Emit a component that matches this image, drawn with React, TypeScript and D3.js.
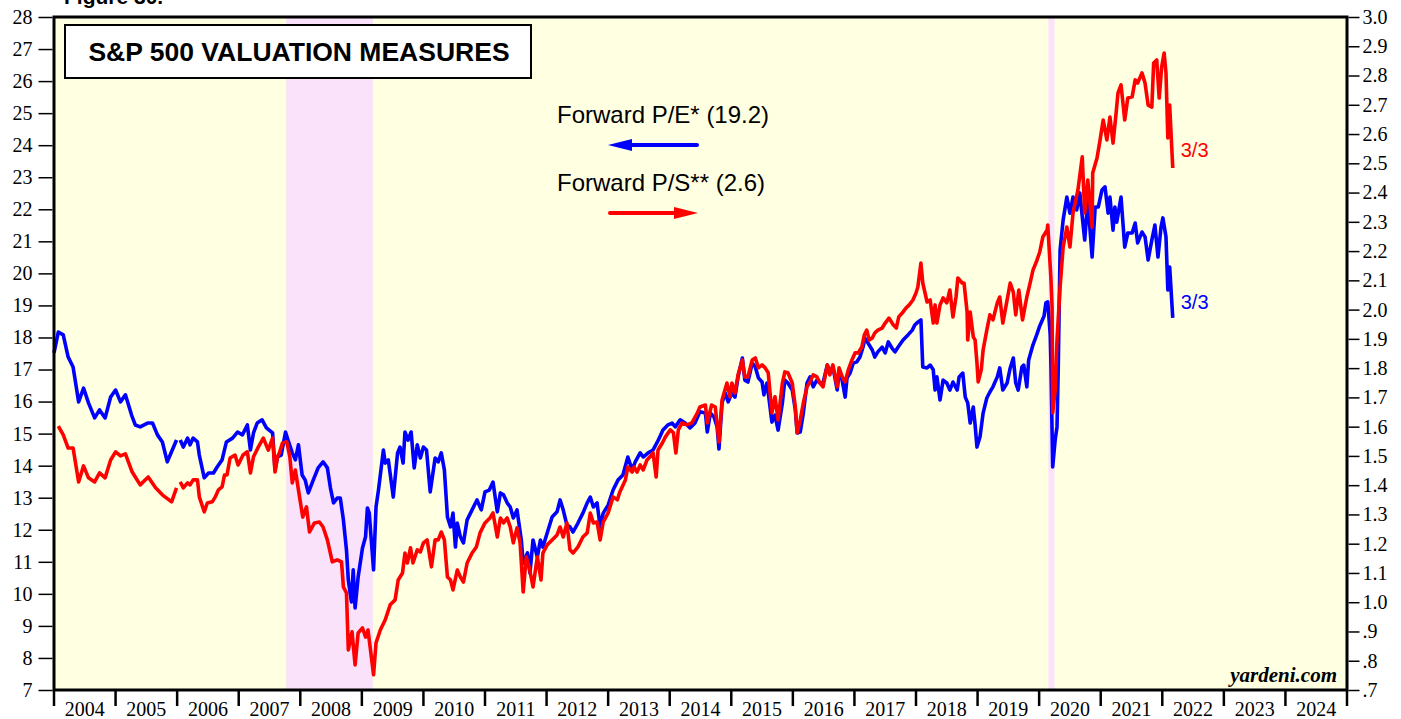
import React, { useEffect, useRef } from 'react'
import * as d3 from 'd3'

// year boundaries on the x axis, and the labels placed between them
const yearTicks = d3.range(2004, 2026)
const yearLabels = d3.range(2004, 2025)
const peTicks = d3.range(7, 29)
const psTicks = [0.7, 0.8, 0.9, 1.0, 1.1, 1.2, 1.3, 1.4, 1.5, 1.6, 1.7, 1.8, 1.9, 2.0, 2.1, 2.2, 2.3, 2.4, 2.5, 2.6, 2.7, 2.8, 2.9, 3.0]

// shaded periods (decimal years)
const bearMarkets: [number, number][] = [[2007.77, 2009.18], [2020.15, 2020.25]]

const peLatest = '19.2'
const psLatest = '2.6'
const lastDate = '3/3'

// Forward P/E, [decimal year, value]; null = break in the series
const peData: [number, number | null][] = [
  [2004.00, 17.52], [2004.07, 18.17], [2004.15, 18.08], [2004.23, 17.39], [2004.31, 17.08], [2004.40, 15.99],
  [2004.48, 16.42], [2004.56, 15.96], [2004.66, 15.49], [2004.74, 15.74], [2004.83, 15.49], [2004.92, 16.14],
  [2005.00, 16.36], [2005.08, 15.99], [2005.16, 16.21], [2005.26, 15.58], [2005.32, 15.27], [2005.40, 15.21],
  [2005.52, 15.33], [2005.60, 15.33], [2005.68, 14.96], [2005.76, 14.74], [2005.84, 14.12], [2005.99, 14.80],
  [2006.02, null],
  [2006.05, 14.80], [2006.10, 14.58], [2006.17, 14.86], [2006.21, 14.65], [2006.26, 14.86], [2006.33, 14.74],
  [2006.36, 14.33], [2006.44, 13.62], [2006.51, 13.77], [2006.59, 13.77], [2006.65, 13.96], [2006.73, 14.18],
  [2006.80, 14.74], [2006.90, 14.86], [2006.98, 15.05], [2007.06, 14.96], [2007.14, 15.27], [2007.19, 14.49],
  [2007.24, 15.02], [2007.30, 15.33], [2007.38, 15.43], [2007.45, 15.18], [2007.55, 15.02], [2007.59, 13.87],
  [2007.63, 14.27], [2007.69, 14.33], [2007.76, 15.05], [2007.81, 14.74], [2007.87, 14.40], [2007.92, 14.18],
  [2007.97, 14.65], [2008.03, 13.71], [2008.08, 13.55], [2008.13, 13.15], [2008.21, 13.55], [2008.29, 13.93],
  [2008.37, 14.12], [2008.44, 13.93], [2008.49, 13.30], [2008.54, 12.84], [2008.60, 12.99], [2008.65, 12.99],
  [2008.70, 12.31], [2008.75, 11.37], [2008.78, 10.43], [2008.83, 9.75], [2008.86, 10.75], [2008.89, 9.56],
  [2008.94, 10.53], [2009.01, 11.43], [2009.06, 11.78], [2009.09, 12.68], [2009.12, 12.52], [2009.19, 10.75],
  [2009.23, 12.71], [2009.27, 13.24], [2009.35, 14.49], [2009.38, 14.08], [2009.43, 14.18], [2009.51, 13.02],
  [2009.58, 14.40], [2009.62, 14.58], [2009.67, 14.08], [2009.70, 15.05], [2009.75, 14.80], [2009.80, 15.05],
  [2009.85, 13.93], [2009.90, 14.65], [2009.95, 14.24], [2010.00, 14.58], [2010.05, 14.49], [2010.11, 13.18],
  [2010.19, 14.24], [2010.24, 14.12], [2010.29, 14.40], [2010.34, 13.87], [2010.39, 12.40], [2010.44, 12.09],
  [2010.48, 12.52], [2010.52, 11.46], [2010.55, 12.21], [2010.60, 11.78], [2010.65, 11.59], [2010.71, 12.31],
  [2010.79, 12.62], [2010.87, 12.93], [2010.94, 12.62], [2011.00, 13.18], [2011.07, 13.24], [2011.13, 13.49],
  [2011.20, 12.56], [2011.25, 13.15], [2011.30, 13.09], [2011.36, 12.84], [2011.41, 12.71], [2011.46, 12.37],
  [2011.52, 12.62], [2011.59, 11.68], [2011.62, 10.96], [2011.69, 11.28], [2011.73, 10.65], [2011.78, 11.68],
  [2011.85, 11.15], [2011.90, 11.68], [2011.94, 11.46], [2012.01, 11.90], [2012.09, 12.40], [2012.17, 12.56],
  [2012.22, 12.93], [2012.27, 12.62], [2012.33, 12.15], [2012.38, 12.09], [2012.43, 11.93], [2012.51, 12.21],
  [2012.59, 12.52], [2012.66, 12.84], [2012.71, 13.02], [2012.76, 12.71], [2012.82, 12.84], [2012.87, 12.09],
  [2012.92, 12.52], [2013.00, 12.77], [2013.08, 13.24], [2013.16, 13.55], [2013.24, 13.71], [2013.32, 14.27],
  [2013.39, 13.87], [2013.44, 14.12], [2013.52, 14.40], [2013.57, 14.27], [2013.65, 14.40], [2013.73, 14.49],
  [2013.80, 14.74], [2013.84, 14.90], [2013.89, 15.11], [2013.97, 15.27], [2014.04, 15.33], [2014.09, 15.21],
  [2014.17, 15.43], [2014.25, 15.33], [2014.33, 15.18], [2014.41, 15.33], [2014.49, 15.68], [2014.58, 15.64],
  [2014.61, 15.05], [2014.66, 15.64], [2014.72, 15.52], [2014.77, 15.21], [2014.80, 14.52], [2014.85, 15.96],
  [2014.90, 16.27], [2014.95, 15.99], [2015.01, 16.27], [2015.06, 16.14], [2015.11, 16.77], [2015.18, 17.36],
  [2015.22, 16.67], [2015.27, 16.61], [2015.34, 17.20], [2015.39, 17.08], [2015.44, 16.74], [2015.50, 16.61],
  [2015.53, 16.21], [2015.58, 16.58], [2015.66, 15.36], [2015.71, 15.58], [2015.76, 15.11], [2015.83, 15.96],
  [2015.87, 16.67], [2015.92, 16.58], [2015.99, 16.36], [2016.04, 15.74], [2016.07, 15.02], [2016.12, 15.05],
  [2016.17, 15.64], [2016.23, 16.58], [2016.28, 16.77], [2016.33, 16.46], [2016.39, 16.67], [2016.44, 16.58],
  [2016.49, 16.58], [2016.56, 17.14], [2016.60, 16.92], [2016.65, 17.08], [2016.72, 16.36], [2016.75, 16.89],
  [2016.80, 16.67], [2016.85, 16.14], [2016.88, 16.74], [2016.93, 16.89], [2016.98, 17.20], [2017.04, 17.24],
  [2017.09, 17.39], [2017.14, 17.70], [2017.17, 17.98], [2017.22, 17.83], [2017.29, 17.61], [2017.33, 17.39],
  [2017.38, 17.55], [2017.45, 17.70], [2017.50, 17.52], [2017.55, 17.86], [2017.61, 17.67], [2017.66, 17.55],
  [2017.71, 17.70], [2017.79, 17.92], [2017.87, 18.08], [2017.94, 18.23], [2017.98, 18.39], [2018.03, 18.48],
  [2018.08, 18.55], [2018.11, 17.08], [2018.18, 17.05], [2018.23, 17.14], [2018.28, 16.99], [2018.31, 16.36],
  [2018.34, 16.77], [2018.39, 16.05], [2018.44, 16.67], [2018.50, 16.58], [2018.55, 16.36], [2018.60, 16.61],
  [2018.67, 16.36], [2018.70, 16.77], [2018.76, 16.89], [2018.80, 16.14], [2018.84, 15.96], [2018.88, 15.33],
  [2018.93, 15.83], [2018.96, 15.27], [2018.99, 14.58], [2019.04, 14.90], [2019.09, 15.64], [2019.15, 16.11],
  [2019.20, 16.30], [2019.25, 16.46], [2019.32, 16.77], [2019.36, 17.05], [2019.41, 16.36], [2019.48, 16.58],
  [2019.53, 17.05], [2019.58, 17.36], [2019.62, 16.58], [2019.66, 16.36], [2019.72, 17.08], [2019.75, 17.14],
  [2019.80, 16.46], [2019.83, 17.30], [2019.90, 17.77], [2019.96, 18.08], [2020.01, 18.36], [2020.08, 18.67],
  [2020.11, 19.08], [2020.14, 19.11], [2020.18, 18.08], [2020.19, 17.30], [2020.22, 13.96], [2020.26, 14.80],
  [2020.29, 15.21], [2020.31, 16.99], [2020.34, 20.73], [2020.39, 21.67], [2020.45, 22.38], [2020.50, 21.88],
  [2020.55, 22.38], [2020.61, 21.98], [2020.66, 22.51], [2020.74, 21.04], [2020.79, 22.29], [2020.86, 20.51],
  [2020.91, 22.07], [2020.96, 22.07], [2021.02, 22.60], [2021.07, 22.70], [2021.12, 21.88], [2021.15, 22.38],
  [2021.20, 21.35], [2021.23, 22.07], [2021.26, 21.60], [2021.33, 22.38], [2021.39, 20.82], [2021.44, 21.26],
  [2021.51, 21.26], [2021.56, 21.57], [2021.60, 20.95], [2021.67, 21.29], [2021.72, 21.14], [2021.77, 20.42],
  [2021.83, 21.04], [2021.88, 21.51], [2021.93, 20.51], [2021.98, 21.45], [2022.01, 21.73], [2022.06, 21.14],
  [2022.09, 19.48], [2022.12, 20.20], [2022.17, 18.61],
]

// Forward P/S, [decimal year, value] on the right axis
const psData: [number, number | null][] = [
  [2004.07, 1.602], [2004.15, 1.572], [2004.23, 1.527], [2004.31, 1.527], [2004.40, 1.411], [2004.48, 1.466],
  [2004.56, 1.425], [2004.66, 1.411], [2004.74, 1.442], [2004.83, 1.425], [2004.92, 1.486], [2005.00, 1.514],
  [2005.08, 1.500], [2005.16, 1.507], [2005.27, 1.445], [2005.40, 1.401], [2005.53, 1.428], [2005.65, 1.391],
  [2005.76, 1.367], [2005.91, 1.343], [2005.99, 1.391],
  [2006.02, null],
  [2006.05, 1.411], [2006.10, 1.391], [2006.17, 1.408], [2006.21, 1.401], [2006.26, 1.418], [2006.33, 1.418],
  [2006.36, 1.360], [2006.44, 1.309], [2006.49, 1.339], [2006.57, 1.343], [2006.62, 1.360], [2006.67, 1.384],
  [2006.73, 1.394], [2006.77, 1.435], [2006.81, 1.435], [2006.86, 1.493], [2006.94, 1.503], [2006.99, 1.469],
  [2007.07, 1.503], [2007.14, 1.514], [2007.19, 1.442], [2007.24, 1.497], [2007.32, 1.531], [2007.40, 1.561],
  [2007.48, 1.520], [2007.55, 1.561], [2007.59, 1.445], [2007.63, 1.497], [2007.66, 1.510], [2007.71, 1.544],
  [2007.78, 1.548], [2007.83, 1.497], [2007.87, 1.408], [2007.92, 1.452], [2007.97, 1.384], [2008.04, 1.291],
  [2008.10, 1.326], [2008.15, 1.240], [2008.23, 1.271], [2008.31, 1.274], [2008.37, 1.257], [2008.44, 1.213],
  [2008.52, 1.138], [2008.60, 1.145], [2008.67, 1.138], [2008.70, 1.052], [2008.75, 1.032], [2008.78, 0.837],
  [2008.84, 0.899], [2008.89, 0.786], [2008.94, 0.895], [2009.01, 0.912], [2009.06, 0.881], [2009.10, 0.905],
  [2009.19, 0.752], [2009.23, 0.861], [2009.30, 0.905], [2009.38, 0.940], [2009.46, 0.991], [2009.54, 1.008],
  [2009.59, 1.076], [2009.66, 1.100], [2009.70, 1.168], [2009.74, 1.134], [2009.79, 1.186], [2009.83, 1.134],
  [2009.90, 1.179], [2009.95, 1.172], [2010.00, 1.203], [2010.06, 1.213], [2010.13, 1.121], [2010.19, 1.213],
  [2010.24, 1.213], [2010.29, 1.240], [2010.34, 1.213], [2010.39, 1.086], [2010.44, 1.076], [2010.48, 1.042],
  [2010.55, 1.110], [2010.60, 1.086], [2010.65, 1.069], [2010.71, 1.134], [2010.79, 1.168], [2010.86, 1.189],
  [2010.92, 1.237], [2011.00, 1.271], [2011.08, 1.288], [2011.13, 1.305], [2011.20, 1.223], [2011.25, 1.288],
  [2011.30, 1.271], [2011.36, 1.288], [2011.41, 1.257], [2011.46, 1.203], [2011.52, 1.254], [2011.57, 1.203],
  [2011.62, 1.035], [2011.67, 1.155], [2011.72, 1.117], [2011.78, 1.052], [2011.85, 1.155], [2011.91, 1.076],
  [2011.94, 1.168], [2012.01, 1.196], [2012.09, 1.213], [2012.17, 1.230], [2012.22, 1.257], [2012.27, 1.223],
  [2012.33, 1.271], [2012.38, 1.179], [2012.43, 1.168], [2012.51, 1.189], [2012.59, 1.223], [2012.66, 1.237],
  [2012.71, 1.305], [2012.76, 1.271], [2012.82, 1.274], [2012.87, 1.213], [2012.92, 1.274], [2013.00, 1.305],
  [2013.08, 1.360], [2013.15, 1.350], [2013.19, 1.377], [2013.28, 1.418], [2013.32, 1.462], [2013.39, 1.445],
  [2013.42, 1.462], [2013.47, 1.445], [2013.52, 1.469], [2013.57, 1.452], [2013.63, 1.486], [2013.68, 1.497],
  [2013.73, 1.510], [2013.78, 1.428], [2013.81, 1.520], [2013.88, 1.544], [2013.93, 1.565], [2014.01, 1.589],
  [2014.06, 1.579], [2014.10, 1.510], [2014.14, 1.589], [2014.20, 1.613], [2014.28, 1.606], [2014.36, 1.613],
  [2014.45, 1.647], [2014.49, 1.667], [2014.58, 1.674], [2014.61, 1.613], [2014.68, 1.674], [2014.74, 1.667],
  [2014.80, 1.548], [2014.85, 1.691], [2014.93, 1.749], [2014.98, 1.702], [2015.01, 1.749], [2015.06, 1.715],
  [2015.11, 1.777], [2015.18, 1.828], [2015.22, 1.770], [2015.27, 1.770], [2015.34, 1.828], [2015.39, 1.835],
  [2015.44, 1.801], [2015.50, 1.811], [2015.55, 1.801], [2015.60, 1.784], [2015.66, 1.647], [2015.71, 1.702],
  [2015.76, 1.623], [2015.83, 1.749], [2015.87, 1.787], [2015.92, 1.784], [2015.99, 1.749], [2016.04, 1.667],
  [2016.07, 1.579], [2016.12, 1.623], [2016.17, 1.681], [2016.23, 1.736], [2016.28, 1.753], [2016.33, 1.777],
  [2016.39, 1.770], [2016.44, 1.749], [2016.49, 1.736], [2016.56, 1.811], [2016.60, 1.777], [2016.65, 1.811],
  [2016.72, 1.736], [2016.75, 1.801], [2016.81, 1.766], [2016.85, 1.753], [2016.90, 1.794], [2016.96, 1.828],
  [2017.01, 1.852], [2017.06, 1.852], [2017.12, 1.872], [2017.16, 1.913], [2017.20, 1.930], [2017.24, 1.896],
  [2017.29, 1.903], [2017.33, 1.920], [2017.38, 1.930], [2017.45, 1.937], [2017.50, 1.954], [2017.56, 1.971],
  [2017.63, 1.948], [2017.68, 1.937], [2017.72, 1.975], [2017.79, 1.992], [2017.84, 2.006], [2017.89, 2.016],
  [2017.95, 2.033], [2018.00, 2.057], [2018.03, 2.077], [2018.08, 2.159], [2018.11, 2.091], [2018.18, 2.026],
  [2018.23, 2.033], [2018.28, 1.954], [2018.31, 2.016], [2018.34, 1.954], [2018.39, 2.016], [2018.44, 2.040],
  [2018.50, 2.023], [2018.55, 2.067], [2018.60, 1.975], [2018.65, 2.043], [2018.68, 2.108], [2018.75, 2.091],
  [2018.78, 2.091], [2018.83, 1.992], [2018.84, 1.896], [2018.88, 1.992], [2018.93, 1.907], [2018.96, 1.896],
  [2018.99, 1.818], [2019.01, 1.753], [2019.06, 1.794], [2019.09, 1.862], [2019.15, 1.930], [2019.20, 1.982],
  [2019.25, 1.965], [2019.32, 2.023], [2019.36, 2.043], [2019.41, 1.954], [2019.48, 2.033], [2019.53, 2.091],
  [2019.58, 2.060], [2019.62, 1.982], [2019.67, 2.067], [2019.73, 1.965], [2019.80, 2.043], [2019.85, 2.088],
  [2019.90, 2.135], [2019.96, 2.166], [2020.01, 2.197], [2020.06, 2.248], [2020.13, 2.272], [2020.14, 2.289],
  [2020.19, 2.112], [2020.21, 2.009], [2020.22, 1.647], [2020.26, 1.725], [2020.29, 1.896], [2020.34, 2.077],
  [2020.39, 2.214], [2020.45, 2.282], [2020.50, 2.214], [2020.55, 2.330], [2020.63, 2.409], [2020.70, 2.522],
  [2020.74, 2.330], [2020.79, 2.443], [2020.86, 2.282], [2020.87, 2.467], [2020.94, 2.518], [2020.99, 2.580],
  [2021.04, 2.648], [2021.10, 2.580], [2021.15, 2.658], [2021.20, 2.569], [2021.25, 2.672], [2021.28, 2.740],
  [2021.33, 2.768], [2021.39, 2.648], [2021.44, 2.723], [2021.51, 2.727], [2021.56, 2.785], [2021.60, 2.774],
  [2021.67, 2.809], [2021.72, 2.774], [2021.77, 2.699], [2021.83, 2.692], [2021.86, 2.843], [2021.91, 2.853],
  [2021.95, 2.723], [2021.99, 2.829], [2022.03, 2.877], [2022.06, 2.809], [2022.09, 2.587], [2022.12, 2.699],
  [2022.17, 2.484],
]

const SERIF = '"Liberation Serif", "Times New Roman", serif'
const SANS = '"Liberation Sans", Arial, sans-serif'

export default function App() {
  const ref = useRef<SVGSVGElement>(null)

  useEffect(() => {
    const W = 1401, H = 719
    const m = { left: 54, right: 1347, top: 17, bottom: 690 }

    const svg = d3.select(ref.current)
    svg.selectAll('*').remove()
    svg.attr('width', W).attr('height', H)

    const x = d3.scaleLinear().domain([2004, 2025]).range([m.left, m.right])
    const yL = d3.scaleLinear().domain([7, 28]).range([m.bottom, m.top])
    const yR = d3.scaleLinear().domain([0.7, 3.0]).range([m.bottom, m.top])

    svg.append('rect').attr('width', W).attr('height', H).attr('fill', '#ffffff')

    // plot background
    svg.append('rect')
      .attr('x', m.left).attr('y', m.top)
      .attr('width', m.right - m.left).attr('height', m.bottom - m.top)
      .attr('fill', '#ffffe2')

    // shaded bands
    svg.append('g').selectAll('rect').data(bearMarkets).join('rect')
      .attr('x', d => x(d[0]))
      .attr('width', d => x(d[1]) - x(d[0]))
      .attr('y', m.top).attr('height', m.bottom - m.top)
      .attr('fill', '#fae2fa')

    // series lines
    const peLine = d3.line<[number, number | null]>()
      .defined(d => d[1] != null)
      .x(d => x(d[0]))
      .y(d => yL(d[1] as number))
    const psLine = d3.line<[number, number | null]>()
      .defined(d => d[1] != null)
      .x(d => x(d[0]))
      .y(d => yR(d[1] as number))

    svg.append('path').datum(peData)
      .attr('d', peLine).attr('fill', 'none')
      .attr('stroke', '#0000ff').attr('stroke-width', 3.6)
      .attr('stroke-linejoin', 'round')
    svg.append('path').datum(psData)
      .attr('d', psLine).attr('fill', 'none')
      .attr('stroke', '#ff0000').attr('stroke-width', 3.6)
      .attr('stroke-linejoin', 'round')

    // plot border
    svg.append('rect')
      .attr('x', m.left).attr('y', m.top)
      .attr('width', m.right - m.left).attr('height', m.bottom - m.top)
      .attr('fill', 'none').attr('stroke', '#000').attr('stroke-width', 3)

    // left axis (P/E)
    const gL = svg.append('g').attr('transform', `translate(${m.left - 1.5},0)`)
      .call(d3.axisLeft(yL).tickValues(peTicks).tickSize(14).tickPadding(6).tickFormat(d3.format('d')))
    gL.select('.domain').remove()
    gL.selectAll('line').attr('stroke-width', 1.5)
    gL.selectAll('text').attr('font-family', SERIF).attr('font-size', 20).attr('fill', '#000')

    // right axis (P/S)
    const gR = svg.append('g').attr('transform', `translate(${m.right + 1.5},0)`)
      .call(d3.axisRight(yR).tickValues(psTicks).tickSize(11).tickPadding(3)
        .tickFormat(d => (+d < 1 ? d3.format('.1f')(+d).slice(1) : d3.format('.1f')(+d))))
    gR.select('.domain').remove()
    gR.selectAll('line').attr('stroke-width', 1.5)
    gR.selectAll('text').attr('font-family', SERIF).attr('font-size', 20).attr('fill', '#000')

    // bottom axis: year boundaries with centred labels
    const gB = svg.append('g')
    gB.selectAll('line').data(yearTicks).join('line')
      .attr('x1', d => x(d)).attr('x2', d => x(d))
      .attr('y1', m.bottom).attr('y2', m.bottom + 16)
      .attr('stroke', '#000').attr('stroke-width', 2.5)
    gB.selectAll('text').data(yearLabels).join('text')
      .attr('x', d => x(d + 0.5)).attr('y', 716)
      .attr('text-anchor', 'middle')
      .attr('font-family', SERIF).attr('font-size', 20)
      .text(d => d)

    // figure caption, cut at top
    svg.append('text').attr('x', 64).attr('y', 4)
      .attr('font-family', SANS).attr('font-weight', 'bold').attr('font-size', 21)
      .text('Figure 30.')

    // title box
    svg.append('rect').attr('x', 65).attr('y', 25).attr('width', 466).attr('height', 53)
      .attr('fill', '#fff').attr('stroke', '#000').attr('stroke-width', 2)
    svg.append('text').attr('x', 299).attr('y', 61)
      .attr('text-anchor', 'middle')
      .attr('font-family', SANS).attr('font-weight', 'bold').attr('font-size', 26.5)
      .text('S&P 500 VALUATION MEASURES')

    // legend
    svg.append('text').attr('x', 557).attr('y', 123)
      .attr('font-family', SANS).attr('font-size', 24)
      .text(`Forward P/E* (${peLatest})`)
    svg.append('line').attr('x1', 628).attr('x2', 697).attr('y1', 145).attr('y2', 145)
      .attr('stroke', '#0000ff').attr('stroke-width', 4).attr('stroke-linecap', 'round')
    svg.append('path').attr('d', 'M608,145 L632,139 L632,151 Z').attr('fill', '#0000ff')

    svg.append('text').attr('x', 557).attr('y', 191)
      .attr('font-family', SANS).attr('font-size', 24)
      .text(`Forward P/S** (${psLatest})`)
    svg.append('line').attr('x1', 610).attr('x2', 677).attr('y1', 213).attr('y2', 213)
      .attr('stroke', '#ff0000').attr('stroke-width', 4).attr('stroke-linecap', 'round')
    svg.append('path').attr('d', 'M698,213 L674,207 L674,219 Z').attr('fill', '#ff0000')

    // end-of-series date labels
    const lastPs = psData[psData.length - 1]
    const lastPe = peData[peData.length - 1]
    svg.append('text').attr('x', x(lastPs[0]) + 8).attr('y', yR(lastPs[1] as number) - 11)
      .attr('font-family', SANS).attr('font-size', 20).attr('fill', '#ff0000')
      .text(lastDate)
    svg.append('text').attr('x', x(lastPe[0]) + 8).attr('y', yL(lastPe[1] as number) - 9)
      .attr('font-family', SANS).attr('font-size', 20).attr('fill', '#0000ff')
      .text(lastDate)

    // source
    svg.append('text').attr('x', 1337).attr('y', 682)
      .attr('text-anchor', 'end')
      .attr('font-family', SERIF).attr('font-weight', 'bold').attr('font-style', 'italic')
      .attr('font-size', 21)
      .text('yardeni.com')
  }, [])

  return (
    <svg ref={ref} style={{ position: 'absolute', left: 0, top: 0, display: 'block' }} />
  )
}
